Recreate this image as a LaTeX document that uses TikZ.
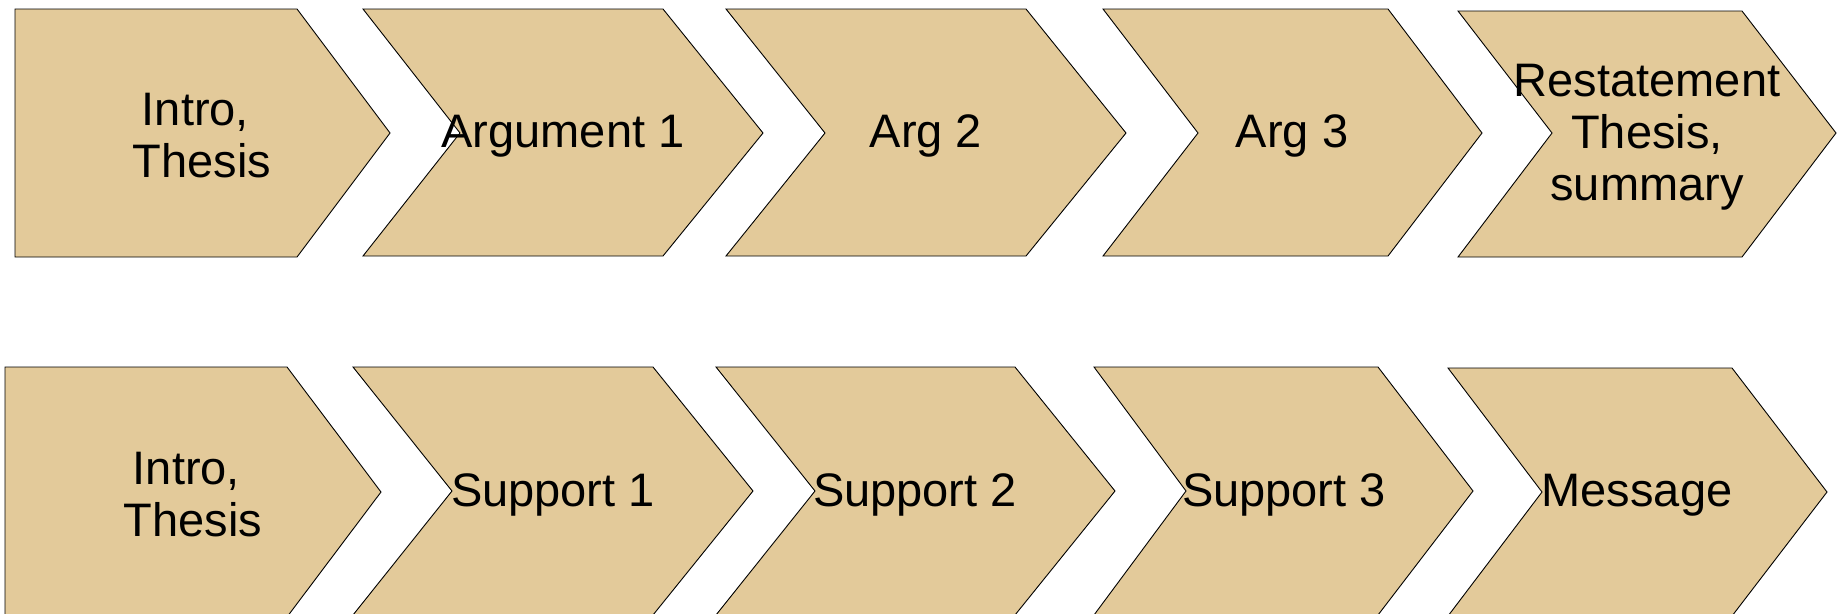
\documentclass[tikz,border=0pt]{standalone}
\usepackage{fontspec}
\setmainfont{Liberation Sans}
\definecolor{tan}{RGB}{227,202,154}
\begin{document}
\begin{tikzpicture}[x=1pt,y=-1pt,
  chev/.style={fill=tan,draw=black,line width=0.9pt,line join=miter},
  lbl/.style={inner sep=0pt,align=center,font=\fontsize{47}{52}\selectfont}]
\useasboundingbox (0,0) rectangle (1838,613);
% top row
\filldraw[chev] (15,9) -- (297,9) -- (390,133) -- (297,257) -- (15,257) -- cycle;
\filldraw[chev] (363,9) -- (663,9) -- (763,133) -- (663,256) -- (363,256) -- (460,133) -- cycle;
\filldraw[chev] (726,9) -- (1026,9) -- (1126,133) -- (1026,256) -- (726,256) -- (825,133) -- cycle;
\filldraw[chev] (1103,9) -- (1388,9) -- (1482,133) -- (1388,256) -- (1103,256) -- (1198,133) -- cycle;
\filldraw[chev] (1458,11) -- (1742,11) -- (1836,133) -- (1742,257) -- (1458,257) -- (1552,133) -- cycle;
% bottom row
\filldraw[chev] (5,367) -- (287,367) -- (381,492) -- (287,617) -- (5,617) -- cycle;
\filldraw[chev] (353,367) -- (653,367) -- (753,491) -- (653,615) -- (353,615) -- (452,491) -- cycle;
\filldraw[chev] (716,367) -- (1015,367) -- (1115,491) -- (1015,615) -- (716,615) -- (815,491) -- cycle;
\filldraw[chev] (1094,367) -- (1378,367) -- (1473,491) -- (1378,615) -- (1094,615) -- (1186,491) -- cycle;
\filldraw[chev] (1448,368) -- (1732,368) -- (1827,492) -- (1732,616) -- (1448,616) -- (1542,492) -- cycle;
% labels
\node[lbl] (t1) at (202,136) {Intro,\hspace*{0.28em}\\Thesis};
\node[lbl] (t2) at (563,136) {Argument 1};
\node[lbl] (t3) at (926,136) {Arg 2};
\node[lbl] (t4) at (1292,136) {Arg 3};
\node[lbl] (t5) at (1647,137) {Restatement\\Thesis,\\summary};
\node[lbl] (b1) at (193,495) {Intro,\hspace*{0.28em}\\Thesis};
\node[lbl] (b2) at (553,495) {Support 1};
\node[lbl] (b3) at (915,495) {Support 2};
\node[lbl] (b4) at (1284,495) {Support 3};
\node[lbl] (b5) at (1637,495) {Message};
\end{tikzpicture}
\end{document}
